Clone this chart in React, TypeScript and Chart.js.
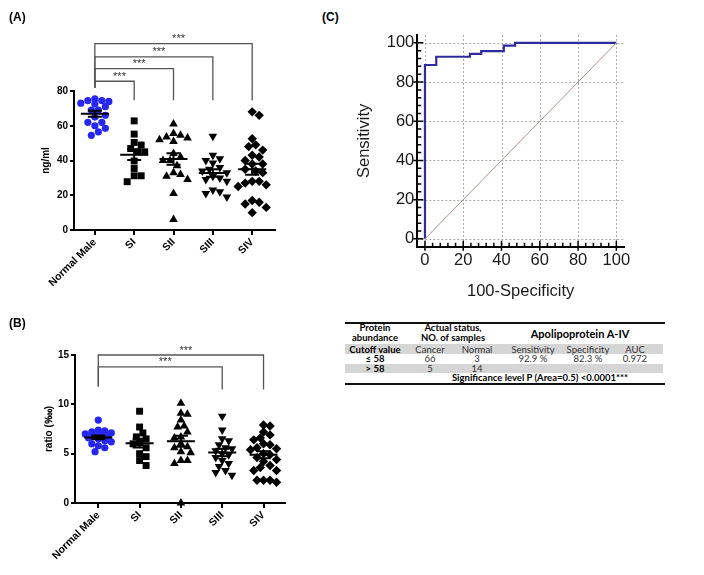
import React, { useEffect, useRef } from 'react';
import { Chart, registerables } from 'chart.js';
Chart.register(...registerables);

// ---------------- data ----------------
const categories = ['Normal Male', 'SI', 'SII', 'SIII', 'SIV'];

// Panel A: ng/ml
const aNormal = [75.5, 74.5, 74.5, 74, 73, 72.5, 71, 69, 69, 66, 65, 62, 62, 60, 58.5, 56.5, 54.5];
const aSI = [62.8, 55.2, 50.4, 48.9, 46.9, 45, 45, 39.7, 35.4, 31.2, 31.2, 27.8];
const aSII = [61, 55.5, 53.5, 54.5, 53, 52, 51, 44, 42, 40, 40, 37, 33, 32, 31, 29, 21, 6];
const aSIII = [54, 43, 41, 40, 38.5, 36, 35, 34, 33, 31, 30, 29, 28, 23, 22, 21, 19];
const aSIV = [68, 66, 52.5, 49, 48, 46, 43, 42, 40, 38, 38, 35, 34, 33, 28, 28, 27, 26, 25, 17, 16, 15, 13, 10];
const aTicks = [0, 20, 40, 60, 80];
const aComparisons = [1, 2, 3, 4];

// Panel B: ratio (‱)
const bNormal = [8.4, 7.4, 7.3, 7.2, 7.1, 7.0, 6.9, 6.8, 6.7, 6.6, 6.5, 6.3, 6.2, 6.0, 5.8, 5.6, 5.2];
const bSI = [9.3, 7.7, 7.1, 6.7, 6.5, 6.1, 6.0, 5.6, 5.0, 4.7, 4.3, 3.8];
const bSII = [10.1, 9.1, 9.0, 8.4, 7.8, 7.7, 7.2, 6.7, 6.6, 6.0, 5.7, 5.6, 5.2, 5.1, 4.3, 4.3, 4.0, 0];
const bSIII = [8.8, 7.4, 6.5, 6.3, 5.9, 5.6, 5.5, 5.3, 5.0, 4.9, 4.6, 4.3, 4.0, 3.7, 3.3, 3.1, 2.8];
const bSIV = [7.9, 7.8, 7.2, 6.9, 6.6, 6.4, 6.0, 5.9, 5.6, 5.5, 5.4, 5.0, 4.9, 4.6, 4.4, 4.2, 3.8, 3.6, 3.3, 3.3, 2.3, 2.3, 2.3, 2.1];
const bTicks = [0, 5, 10, 15];
const bComparisons = [3, 4];
const stars = '***';

// Panel C: ROC
const rocFpr = [0, 0, 5.9, 5.9, 23.5, 23.5, 29.4, 29.4, 41.2, 41.2, 47.1, 47.1, 100];
const rocTpr = [0, 88.7, 88.7, 92.9, 92.9, 94.4, 94.4, 95.8, 95.8, 98.6, 98.6, 100, 100];
const rocTicks = [0, 20, 40, 60, 80, 100];

// Table
const tableColHeads = ['Cutoff value', 'Cancer', 'Normal', 'Sensitivity', 'Specificity', 'AUC'];
const tableRows = [
  ['≤ 58', '66', '3', '92.9 %', '82.3 %', '0.972'],
  ['> 58', '5', '14', '', '', ''],
];
const tableSig = 'Significance level P (Area=0.5) <0.0001***';

// ---------------- helpers ----------------
const F = '"Liberation Sans", Arial, sans-serif';

function meanSem(v: number[]) {
  const n = v.length;
  const m = v.reduce((a, b) => a + b, 0) / n;
  const sd = Math.sqrt(v.reduce((a, b) => a + (b - m) ** 2, 0) / (n - 1));
  return { m, sem: sd / Math.sqrt(n) };
}

// simple beeswarm: horizontal offsets so markers overlap as little as possible
function swarm(values: number[], idx: number, pxX: number, pxY: number, d: number, maxOff: number) {
  const order = values.map((_, i) => i).sort((a, b) => values[b] - values[a]);
  const placed: { x: number; y: number }[] = [];
  const out: { x: number; y: number }[] = new Array(values.length);
  for (const i of order) {
    const y = values[i] * pxY;
    let chosen = 0;
    let bestScore = -1;
    for (let k = 0; k < 80; k++) {
      const off = k === 0 ? 0 : (k % 2 === 1 ? 1 : -1) * Math.ceil(k / 2) * d * 0.5;
      if (Math.abs(off) > maxOff) break;
      const minD = placed.reduce((mn, p) => Math.min(mn, Math.hypot(p.x - off, p.y - y)), Infinity);
      if (minD >= d) {
        chosen = off;
        break;
      }
      if (minD > bestScore) {
        bestScore = minD;
        chosen = off;
      }
    }
    placed.push({ x: chosen, y });
    out[i] = { x: idx + chosen / pxX, y: values[i] };
  }
  return out;
}

const groupStyles = [
  { ps: 'circle', rot: 0, c: '#2626f5', r: 3.6 },
  { ps: 'rect', rot: 0, c: '#000', r: 4.9 },
  { ps: 'triangle', rot: 0, c: '#000', r: 5 },
  { ps: 'triangle', rot: 180, c: '#000', r: 5 },
  { ps: 'rectRot', rot: 0, c: '#000', r: 4.7 },
];

interface DotOpts {
  groups: number[][];
  yTicks: number[];
  yTitle: string;
  xMin: number;
  xMax: number;
  pxX: number;
  pxY: number;
  swarmD: number;
  swarmMax: number;
  comps: number[];
  levels: number[];
  dropTo: number;
  leftTo: number;
  pad: { left: number; right: number; top: number; bottom: number };
  yAxisW: number;
  xAxisH: number;
}

function dotConfig(o: DotOpts): any {
  const datasets = o.groups.map((g, i) => ({
    type: 'scatter',
    data: swarm(g, i, o.pxX, o.pxY, o.swarmD, o.swarmMax),
    pointStyle: groupStyles[i].ps,
    pointRotation: groupStyles[i].rot,
    pointRadius: groupStyles[i].r,
    pointHoverRadius: groupStyles[i].r,
    pointBackgroundColor: groupStyles[i].c,
    pointBorderWidth: 0,
    showLine: false,
    clip: false,
  }));
  const extras = {
    id: 'dotExtras',
    afterDatasetsDraw(chart: any) {
      const ctx = chart.ctx;
      const xs = chart.scales.x;
      const ys = chart.scales.y;
      ctx.save();
      ctx.strokeStyle = '#000';
      ctx.lineWidth = 2;
      o.groups.forEach((g, i) => {
        const { m, sem } = meanSem(g);
        const cx = xs.getPixelForValue(i);
        const ym = ys.getPixelForValue(m);
        const yt = ys.getPixelForValue(m + sem);
        const yb = ys.getPixelForValue(m - sem);
        ctx.beginPath();
        ctx.moveTo(cx - 14, ym);
        ctx.lineTo(cx + 14, ym);
        ctx.moveTo(cx - 7, yt);
        ctx.lineTo(cx + 7, yt);
        ctx.moveTo(cx - 7, yb);
        ctx.lineTo(cx + 7, yb);
        ctx.moveTo(cx, yt);
        ctx.lineTo(cx, yb);
        ctx.stroke();
      });
      ctx.restore();
    },
    afterDraw(chart: any) {
      const ctx = chart.ctx;
      const xs = chart.scales.x;
      const ys = chart.scales.y;
      ctx.save();
      ctx.strokeStyle = '#555';
      ctx.lineWidth = 1.3;
      ctx.fillStyle = '#333';
      ctx.font = `11px ${F}`;
      ctx.textAlign = 'center';
      ctx.textBaseline = 'alphabetic';
      const x0 = xs.getPixelForValue(0);
      o.comps.forEach((to, k) => {
        const lv = ys.getPixelForValue(o.levels[k]);
        const x1 = xs.getPixelForValue(to);
        ctx.beginPath();
        ctx.moveTo(x0, ys.getPixelForValue(o.leftTo));
        ctx.lineTo(x0, lv);
        ctx.lineTo(x1, lv);
        ctx.lineTo(x1, ys.getPixelForValue(o.dropTo));
        ctx.stroke();
        ctx.fillText(stars, (x0 + x1) / 2 + 5, lv - 1.5);
      });
      ctx.restore();
    },
  };
  const tickFont = { family: F, size: 10, weight: 'bold' as const };
  return {
    type: 'scatter',
    data: { datasets },
    plugins: [extras],
    options: {
      animation: false,
      responsive: false,
      events: [],
      layout: { padding: o.pad },
      plugins: { legend: { display: false }, tooltip: { enabled: false } },
      scales: {
        x: {
          type: 'linear',
          min: o.xMin,
          max: o.xMax,
          afterBuildTicks: (s: any) => {
            s.ticks = categories.map((_, i) => ({ value: i }));
          },
          afterFit: (s: any) => {
            s.height = o.xAxisH;
          },
          ticks: {
            callback: (v: number) => categories[Math.round(v)] ?? '',
            autoSkip: false,
            minRotation: 45,
            maxRotation: 45,
            font: { family: F, size: 10.5, weight: 'bold' },
            color: '#000',
            padding: 1,
          },
          grid: { drawOnChartArea: false, drawTicks: true, tickLength: 5, color: '#000', lineWidth: 2 },
          border: { color: '#000', width: 2 },
        },
        y: {
          type: 'linear',
          min: o.yTicks[0],
          max: o.yTicks[o.yTicks.length - 1],
          afterBuildTicks: (s: any) => {
            s.ticks = o.yTicks.map((v) => ({ value: v }));
          },
          afterFit: (s: any) => {
            s.width = o.yAxisW;
          },
          ticks: { font: tickFont, color: '#000', padding: 2 },
          grid: { drawOnChartArea: false, drawTicks: true, tickLength: 4, color: '#000', lineWidth: 2 },
          border: { color: '#000', width: 2 },
          title: {
            display: true,
            text: o.yTitle,
            font: { family: F, size: 10, weight: 'bold' },
            color: '#000',
            padding: { top: 4, bottom: 0 },
          },
        },
      },
    },
  };
}

function rocConfig(): any {
  const roc = rocFpr.map((x, i) => ({ x, y: rocTpr[i] }));
  const diag = [
    { x: rocTicks[0], y: rocTicks[0] },
    { x: rocTicks[rocTicks.length - 1], y: rocTicks[rocTicks.length - 1] },
  ];
  const gridPlugin = {
    id: 'rocGrid',
    beforeDatasetsDraw(chart: any) {
      const { ctx, chartArea: a } = chart;
      const xs = chart.scales.x;
      const ys = chart.scales.y;
      ctx.save();
      ctx.strokeStyle = '#a9a9a9';
      ctx.lineWidth = 1;
      ctx.setLineDash([2, 2]);
      rocTicks.forEach((v) => {
        const px = Math.round(xs.getPixelForValue(v)) + 0.5;
        const py = Math.round(ys.getPixelForValue(v)) + 0.5;
        ctx.beginPath();
        ctx.moveTo(px, a.top);
        ctx.lineTo(px, a.bottom);
        ctx.moveTo(a.left, py);
        ctx.lineTo(a.right, py);
        ctx.stroke();
      });
      ctx.restore();
    },
    afterDraw(chart: any) {
      const { ctx, chartArea: a } = chart;
      const xs = chart.scales.x;
      const ys = chart.scales.y;
      ctx.save();
      ctx.strokeStyle = '#000';
      ctx.lineWidth = 1.5;
      ctx.beginPath();
      for (let v = 0; v <= 100; v += 4) {
        const major = v % 20 === 0;
        const px = xs.getPixelForValue(v);
        const py = ys.getPixelForValue(v);
        ctx.moveTo(px, a.bottom + (major ? 4 : 0));
        ctx.lineTo(px, a.bottom - (major ? 6 : 4));
        ctx.moveTo(a.left - (major ? 4 : 0), py);
        ctx.lineTo(a.left + (major ? 6 : 4), py);
      }
      ctx.stroke();
      ctx.restore();
    },
  };
  const tickFont = { family: F, size: 16.5 };
  return {
    type: 'scatter',
    data: {
      datasets: [
        { data: diag, showLine: true, borderColor: '#b48a8a', borderWidth: 1, pointRadius: 0 },
        { data: roc, showLine: true, borderColor: '#2c2ca0', borderWidth: 2.2, pointRadius: 0 },
      ],
    },
    plugins: [gridPlugin],
    options: {
      animation: false,
      responsive: false,
      events: [],
      layout: { padding: { left: 11, right: 16, top: 35, bottom: 9 } },
      plugins: { legend: { display: false }, tooltip: { enabled: false } },
      scales: {
        x: {
          type: 'linear',
          min: -4,
          max: 104,
          afterBuildTicks: (s: any) => {
            s.ticks = rocTicks.map((v) => ({ value: v }));
          },
          afterFit: (s: any) => {
            s.height = 54.3;
          },
          ticks: { font: tickFont, color: '#1a1a1a', padding: 4, maxRotation: 0 },
          grid: { display: false, drawTicks: false },
          border: { display: true, color: '#000', width: 2 },
          title: { display: true, text: '100-Specificity', font: tickFont, color: '#1a1a1a', padding: { top: 4, bottom: 0 } },
        },
        y: {
          type: 'linear',
          min: -4,
          max: 104,
          afterBuildTicks: (s: any) => {
            s.ticks = rocTicks.map((v) => ({ value: v }));
          },
          afterFit: (s: any) => {
            s.width = 66.3;
          },
          ticks: { font: tickFont, color: '#1a1a1a', padding: 3 },
          grid: { display: false, drawTicks: false },
          border: { display: true, color: '#000', width: 2 },
          title: { display: true, text: 'Sensitivity', font: tickFont, color: '#1a1a1a', padding: { top: 4, bottom: 0 } },
        },
      },
    },
  };
}

function ChartBox(props: { left: number; top: number; width: number; height: number; make: () => any }) {
  const ref = useRef<HTMLCanvasElement>(null);
  useEffect(() => {
    const chart = new Chart(ref.current as HTMLCanvasElement, props.make());
    return () => chart.destroy();
  }, []);
  return (
    <canvas
      ref={ref}
      width={props.width}
      height={props.height}
      style={{ position: 'absolute', left: props.left, top: props.top, width: props.width, height: props.height }}
    />
  );
}

const TF = 'Lato, "Open Sans", sans-serif';

function Cell(props: { x: number; y: number; text: string; bold?: boolean; size?: number; color?: string }) {
  return (
    <div
      style={{
        position: 'absolute',
        left: props.x,
        top: props.y,
        transform: 'translate(-50%, -50%)',
        whiteSpace: 'nowrap',
        fontFamily: TF,
        fontSize: props.size ?? 9.5,
        fontWeight: props.bold ? 700 : 400,
        color: props.color ?? (props.bold ? '#000' : '#333'),
        lineHeight: 1.05,
        textAlign: 'center',
      }}
    >
      {props.text.split('\n').map((t, i) => (
        <div key={i}>{t}</div>
      ))}
    </div>
  );
}

function Table() {
  const colX = [375, 430, 477, 533, 588, 635];
  return (
    <>
      <div style={{ position: 'absolute', left: 345, top: 322, width: 320, height: 1.5, background: '#111' }} />
      <Cell x={colX[0]} y={333} text={'Protein\nabundance'} bold />
      <Cell x={453} y={333} text={'Actual status,\nNO. of samples'} bold />
      <Cell x={580} y={334} text={'Apolipoprotein A-IV'} bold size={11} />
      <div style={{ position: 'absolute', left: 345, top: 344.3, width: 318, height: 10, background: '#d5d5d5' }} />
      {tableColHeads.map((t, i) => (
        <Cell key={'h' + i} x={colX[i]} y={349.5} text={t} bold={i === 0} />
      ))}
      <div style={{ position: 'absolute', left: 345, top: 364.3, width: 318, height: 9, background: '#d5d5d5' }} />
      {tableRows.map((row, r) =>
        row.map((t, i) => <Cell key={'r' + r + i} x={colX[i]} y={359.3 + r * 9.6} text={t} bold={i === 0} />)
      )}
      <Cell x={540} y={378.3} text={tableSig} bold />
      <div style={{ position: 'absolute', left: 345, top: 383, width: 320, height: 1.5, background: '#111' }} />
    </>
  );
}

function PanelLabel(props: { x: number; y: number; text: string }) {
  return (
    <div
      style={{
        position: 'absolute',
        left: props.x,
        top: props.y,
        fontFamily: F,
        fontWeight: 700,
        fontSize: 12,
        lineHeight: '12px',
        color: '#000',
      }}
    >
      {props.text}
    </div>
  );
}

export default function App() {
  return (
    <div style={{ position: 'absolute', left: 0, top: 0, width: 704, height: 575, background: '#fff', overflow: 'hidden' }}>
      <ChartBox
        left={0}
        top={0}
        width={300}
        height={300}
        make={() =>
          dotConfig({
            groups: [aNormal, aSI, aSII, aSIII, aSIV],
            yTicks: aTicks,
            yTitle: 'ng/ml',
            xMin: -0.53,
            xMax: 4.58,
            pxX: 39.3,
            pxY: 1.74,
            swarmD: 7,
            swarmMax: 14,
            comps: aComparisons,
            levels: [85.6, 92.9, 99.6, 107.3],
            dropTo: 74.7,
            leftTo: 81.8,
            pad: { left: 36, right: 25, top: 91, bottom: 0 },
            yAxisW: 38,
            xAxisH: 70,
          })
        }
      />
      <ChartBox
        left={0}
        top={290}
        width={310}
        height={285}
        make={() =>
          dotConfig({
            groups: [bNormal, bSI, bSII, bSIII, bSIV],
            yTicks: bTicks,
            yTitle: 'ratio (‱)',
            xMin: -0.564,
            xMax: 4.52,
            pxX: 41.3,
            pxY: 9.87,
            swarmD: 6.5,
            swarmMax: 14,
            comps: bComparisons,
            levels: [13.8, 15.0],
            dropTo: 11.5,
            leftTo: 11.8,
            pad: { left: 39, right: 25, top: 65, bottom: 0 },
            yAxisW: 36,
            xAxisH: 72,
          })
        }
      />
      <ChartBox left={340} top={0} width={300} height={310} make={rocConfig} />
      <Table />
      <PanelLabel x={9} y={11} text="(A)" />
      <PanelLabel x={9} y={317} text="(B)" />
      <PanelLabel x={322} y={11} text="(C)" />
    </div>
  );
}
